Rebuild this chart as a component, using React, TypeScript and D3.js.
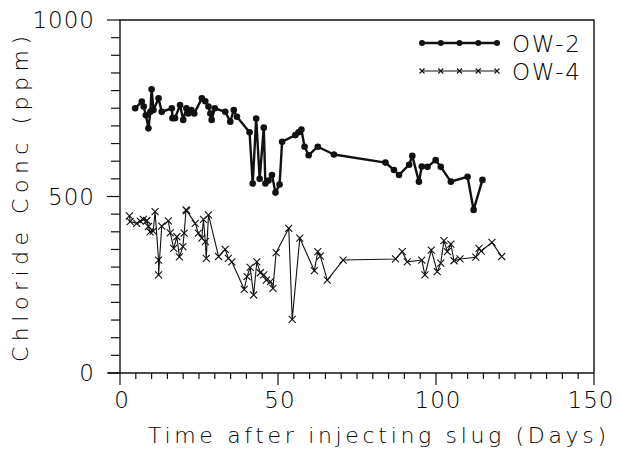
import React, { useRef, useEffect } from "react";
import * as d3 from "d3";

// OW-2 well: days after injection, chloride ppm
const ow2Days = [4.8, 6.9, 7.5, 8.2, 9, 9.6, 10, 10.6, 12.2, 13.2, 16.4, 16.6, 17.4, 19, 20, 21, 21.6, 22.6, 23.5, 25.9, 27, 28, 28.6, 29, 30, 33.3, 34.9, 36, 37, 41, 42, 43.1, 44.2, 45.5, 46, 47, 48.1, 49.2, 50.5, 51.3, 55.5, 56.5, 57.4, 58.4, 59.7, 62.6, 67.7, 84, 86.7, 88.3, 91.5, 92.5, 94.6, 95.5, 97.3, 99.9, 101.5, 104.7, 110, 111.9, 114.7];
const ow2Conc = [750, 769, 755, 730, 693, 740, 804, 745, 778, 740, 750, 722, 722, 759, 717, 750, 735, 745, 735, 778, 770, 755, 735, 717, 750, 740, 712, 745, 726, 682, 537, 721, 550, 695, 537, 545, 561, 511, 534, 655, 674, 682, 690, 641, 617, 641, 619, 596, 575, 561, 590, 615, 542, 585, 584, 603, 584, 542, 556, 462, 547];

// OW-4 well
const ow4Days = [3, 3.2, 5.3, 6.4, 7.4, 8.5, 9, 9.5, 10.5, 11.1, 12.2, 12.2, 13.2, 15.3, 15.9, 17, 18, 18.8, 19.9, 20.3, 20.9, 21.1, 23.8, 24.8, 25.9, 26.4, 27, 27.3, 28, 31.2, 33.3, 34.3, 35.4, 39.3, 40.2, 41.2, 42.3, 43.3, 44.4, 45.5, 46.3, 47.6, 48.4, 49.4, 53.4, 54.5, 56.9, 61.5, 62.6, 63.4, 65.6, 70.6, 87.2, 89.3, 90.9, 95.5, 96.5, 98.5, 100.4, 101.5, 102.5, 103.6, 104.7, 105.7, 107.6, 112.6, 113.6, 114.3, 117.7, 120.8];
const ow4Conc = [445, 429, 424, 430, 435, 432, 415, 400, 402, 457, 320, 278, 416, 431, 397, 353, 386, 329, 358, 396, 462, 460, 424, 396, 382, 435, 372, 325, 448, 330, 350, 325, 315, 237, 273, 299, 221, 315, 284, 278, 263, 259, 240, 341, 410, 152, 382, 290, 344, 331, 263, 320, 323, 344, 315, 320, 278, 348, 287, 311, 375, 344, 365, 318, 323, 328, 353, 345, 370, 330];

const xMajor = [0, 50, 100, 150];
const yMajor = [0, 500, 1000];
const seriesNames = ["OW-2", "OW-4"];

const ink = "#111";
const textInk = "#000";
const font = "'DejaVu Sans', 'Liberation Sans', sans-serif";
const weight = 200;

export default function App() {
  const svgRef = useRef<SVGSVGElement>(null);

  useEffect(() => {
    const svg = d3.select(svgRef.current);
    svg.selectAll("*").remove();

    const left = 120, right = 594, top = 20, bottom = 373;

    const x = d3.scaleLinear().domain([0, 150]).range([left, right]);
    const y = d3.scaleLinear().domain([0, 1000]).range([bottom, top]);

    const g = svg.append("g");

    // frame
    g.append("path")
      .attr("d", `M${left},${bottom}V${top}H${right}V${bottom}`)
      .attr("fill", "none").attr("stroke", ink).attr("stroke-width", 1.4);
    g.append("line")
      .attr("x1", left - 12).attr("x2", right).attr("y1", bottom).attr("y2", bottom)
      .attr("stroke", ink).attr("stroke-width", 1.4);

    // y ticks every 50
    const yTicks = d3.range(0, 1001, 50);
    g.selectAll("line.yt").data(yTicks).join("line")
      .attr("class", "yt")
      .attr("x1", (d) => (yMajor.includes(d) ? left - 13 : left - 9))
      .attr("x2", left)
      .attr("y1", (d) => y(d)).attr("y2", (d) => y(d))
      .attr("stroke", ink).attr("stroke-width", 1.2);

    // x ticks every 5
    const xTicks = d3.range(0, 151, 5);
    g.selectAll("line.xt").data(xTicks).join("line")
      .attr("class", "xt")
      .attr("x1", (d) => x(d)).attr("x2", (d) => x(d))
      .attr("y1", bottom)
      .attr("y2", (d) => (xMajor.includes(d) ? bottom + 12 : bottom + 6))
      .attr("stroke", ink).attr("stroke-width", 1.2);

    // tick labels
    g.selectAll("text.yl").data(yMajor).join("text")
      .attr("class", "yl")
      .attr("x", left - 25)
      .attr("y", (d) => y(d) + 8)
      .attr("text-anchor", "end")
      .attr("font-family", font).attr("font-weight", weight)
      .attr("font-size", 23).attr("fill", textInk)
      .attr("letter-spacing", 1)
      .text((d) => d);

    g.selectAll("text.xl").data(xMajor).join("text")
      .attr("class", "xl")
      .attr("x", (d) => (d === 150 ? x(d) - 3 : x(d) + 2))
      .attr("y", bottom + 35)
      .attr("text-anchor", "middle")
      .attr("font-family", font).attr("font-weight", weight)
      .attr("font-size", 23).attr("fill", textInk)
      .attr("letter-spacing", 1)
      .text((d) => d);

    // axis titles
    g.append("text")
      .attr("x", 148).attr("y", 443)
      .attr("textLength", 458).attr("lengthAdjust", "spacing")
      .attr("font-family", font).attr("font-weight", weight)
      .attr("font-size", 22).attr("fill", textInk)
      .text("Time after injecting slug (Days)");

    g.append("text")
      .attr("transform", "translate(28,362) rotate(-90)")
      .attr("textLength", 326).attr("lengthAdjust", "spacing")
      .attr("font-family", font).attr("font-weight", weight)
      .attr("font-size", 22).attr("fill", textInk)
      .text("Chloride Conc (ppm)");

    const cross = (cx: number, cy: number, s: number) =>
      `M${cx - s},${cy - s}L${cx + s},${cy + s}M${cx - s},${cy + s}L${cx + s},${cy - s}`;
    const lineGen = d3.line<[number, number]>().x((d) => x(d[0])).y((d) => y(d[1]));

    // OW-2
    const ow2 = ow2Days.map((d, i) => [d, ow2Conc[i]] as [number, number]);
    g.append("path").datum(ow2)
      .attr("fill", "none").attr("stroke", ink).attr("stroke-width", 2.4)
      .attr("stroke-linejoin", "round")
      .attr("d", lineGen);
    g.selectAll("circle.p2").data(ow2).join("circle")
      .attr("class", "p2")
      .attr("cx", (d) => x(d[0])).attr("cy", (d) => y(d[1]))
      .attr("r", 3.3).attr("fill", ink);

    // OW-4
    const ow4 = ow4Days.map((d, i) => [d, ow4Conc[i]] as [number, number]);
    g.append("path").datum(ow4)
      .attr("fill", "none").attr("stroke", ink).attr("stroke-width", 1.1)
      .attr("d", lineGen);
    g.selectAll("path.p4").data(ow4).join("path")
      .attr("class", "p4")
      .attr("d", (d) => cross(x(d[0]), y(d[1]), 3.5))
      .attr("stroke", ink).attr("stroke-width", 1.1);

    // legend
    const lx0 = 422, lx1 = 497;
    const ly = [43, 71];
    const lMarks = d3.range(5).map((i) => lx0 + (i * (lx1 - lx0)) / 4);
    seriesNames.forEach((name, k) => {
      g.append("line")
        .attr("x1", lx0).attr("x2", lx1).attr("y1", ly[k]).attr("y2", ly[k])
        .attr("stroke", ink).attr("stroke-width", k === 0 ? 2.4 : 1.1);
      lMarks.forEach((mx) => {
        if (k === 0) {
          g.append("circle").attr("cx", mx).attr("cy", ly[k]).attr("r", 3).attr("fill", ink);
        } else {
          g.append("path").attr("d", cross(mx, ly[k], 2.5)).attr("stroke", ink).attr("stroke-width", 1.1);
        }
      });
      g.append("text")
        .attr("x", 512).attr("y", ly[k] + 9)
        .attr("textLength", 68).attr("lengthAdjust", "spacing")
        .attr("font-family", font).attr("font-weight", weight)
        .attr("font-size", 23).attr("fill", textInk)
        .text(name);
    });
  }, []);

  return (
    <svg
      ref={svgRef}
      width={620}
      height={453}
      style={{ position: "absolute", left: 0, top: 0, background: "#fff" }}
    />
  );
}
